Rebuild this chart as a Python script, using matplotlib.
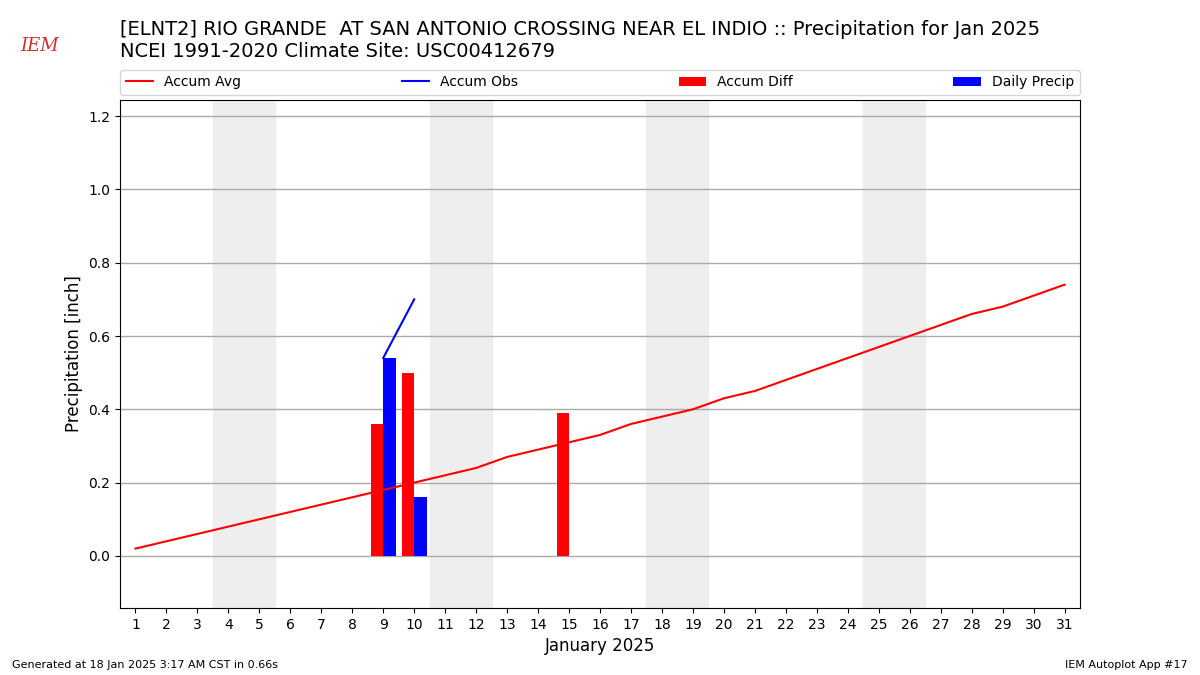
import matplotlib
matplotlib.use("Agg")
import matplotlib.pyplot as plt

# days of January 2025
days = list(range(1, 32))
accum_avg = [0.02, 0.04, 0.06, 0.08, 0.10, 0.12, 0.14, 0.16, 0.18, 0.20,
             0.22, 0.24, 0.27, 0.29, 0.31, 0.33, 0.36, 0.38, 0.40, 0.43,
             0.45, 0.48, 0.51, 0.54, 0.57, 0.60, 0.63, 0.66, 0.68, 0.71, 0.74]
obs_days = [9, 10]
accum_obs = [0.54, 0.70]
diff_days = [9, 10, 15]
accum_diff = [0.36, 0.50, 0.39]
precip_days = [9, 10]
daily_precip = [0.54, 0.16]
weekends = [(4, 5), (11, 12), (18, 19), (25, 26)]

fig = plt.figure(figsize=(12, 6.75), dpi=100)
ax = fig.add_axes([0.1, 0.0993, 0.8, 0.7526])

for sat, sun in weekends:
    ax.axvspan(sat - 0.5, sun + 0.5, color="#eeeeee", zorder=0)

ax.bar(diff_days, accum_diff, width=-0.4, align="edge", color="r",
       label="Accum Diff", zorder=2)
ax.bar(precip_days, daily_precip, width=0.4, align="edge", color="b",
       label="Daily Precip", zorder=2)
l1, = ax.plot(days, accum_avg, color="r", lw=1.5, label="Accum Avg", zorder=3)
l2, = ax.plot(obs_days, accum_obs, color="b", lw=1.5, label="Accum Obs", zorder=3)

handles, labels = ax.get_legend_handles_labels()
order = ["Accum Avg", "Accum Obs", "Accum Diff", "Daily Precip"]
hs = [handles[labels.index(o)] for o in order]
ax.legend(hs, order, loc="lower left", bbox_to_anchor=(0, 1.01, 1, 0.05),
          mode="expand", ncol=4, borderaxespad=0, fontsize=10)

ax.set_xlim(0.5, 31.5)
ax.set_ylim(-0.142, 1.244)
ax.set_xticks(days)
ax.set_yticks([0.0, 0.2, 0.4, 0.6, 0.8, 1.0, 1.2])
ax.yaxis.grid(True, color="#aaaaaa", lw=1)
ax.set_axisbelow(True)
ax.set_xlabel("January 2025", fontsize=12)
ax.set_ylabel("Precipitation [inch]", fontsize=12)

fig.text(0.1, 0.94, "[ELNT2] RIO GRANDE  AT SAN ANTONIO CROSSING NEAR EL INDIO :: "
         "Precipitation for Jan 2025\nNCEI 1991-2020 Climate Site: USC00412679",
         fontsize=14, va="center", ha="left")

# logo stand-in
fig.text(0.017, 0.932, "IEM", color="#d03030", fontsize=13, family="serif",
         style="italic", ha="left", va="center")

fig.text(0.01, 0.01, "Generated at 18 Jan 2025 3:17 AM CST in 0.66s", fontsize=8)
fig.text(0.99, 0.01, "IEM Autoplot App #17", fontsize=8, ha="right")

fig.savefig("out.png", dpi=100)
